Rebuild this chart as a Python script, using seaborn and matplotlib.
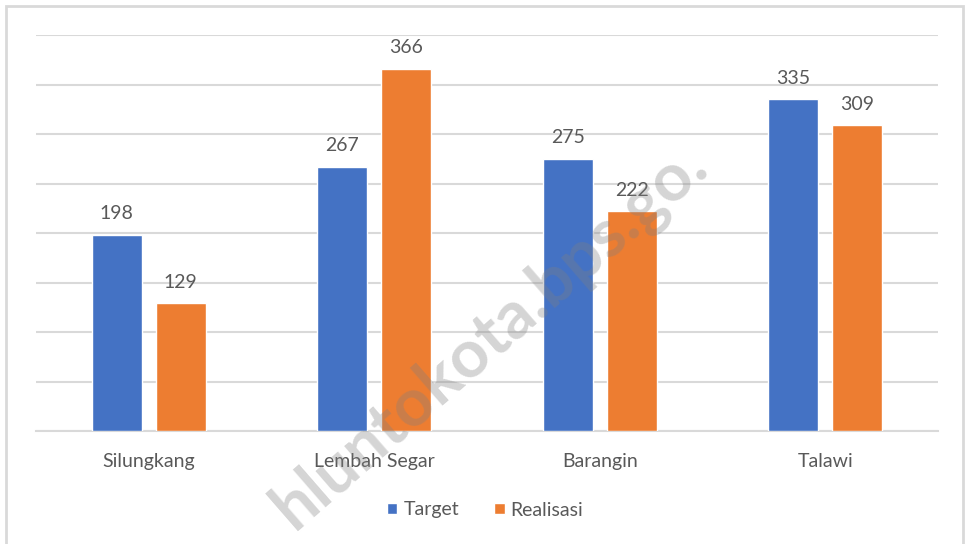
import matplotlib
matplotlib.use("Agg")
import matplotlib.pyplot as plt
import matplotlib.patches as patches
import pandas as pd
import seaborn as sns

# datos
kecamatan = ["Silungkang", "Lembah Segar", "Barangin", "Talawi"]
target = [198, 267, 275, 335]
realisasi = [129, 366, 222, 309]
seri = ["Target", "Realisasi"]
warna = ["#4472C4", "#ED7D31"]

df = pd.DataFrame({
    "kecamatan": kecamatan * 2,
    "nilai": target + realisasi,
    "seri": [seri[0]] * len(kecamatan) + [seri[1]] * len(kecamatan),
})

sns.set_style("white")
plt.rcParams["font.family"] = ["Lato", "DejaVu Sans"]
abu = "#595959"

fig = plt.figure(figsize=(9.7, 5.44), dpi=100)
ax = fig.add_axes([36 / 970, 1 - 431 / 544, 902 / 970, 396 / 544])

sns.barplot(data=df, x="kecamatan", y="nilai", hue="seri", palette=warna,
            width=0.568, gap=0.22, ax=ax, zorder=3, saturation=1)

for c in ax.containers:
    ax.bar_label(c, padding=9, fontsize=14, color=abu)

ax.set_ylim(0, 400)
ax.set_yticks(range(0, 401, 50))
ax.yaxis.grid(True, color="#D9D9D9", linewidth=1.5, zorder=0)
ax.set_yticklabels([])
ax.tick_params(axis="y", length=0)
ax.tick_params(axis="x", length=0, pad=16, labelsize=14, labelcolor=abu)
ax.set_xlabel("")
ax.set_ylabel("")
for s in ["top", "right", "left"]:
    ax.spines[s].set_visible(False)
ax.spines["bottom"].set_color("#D9D9D9")
ax.spines["bottom"].set_linewidth(1.5)

leg = ax.legend(loc="center", bbox_to_anchor=(0.5, (544 - 510) / 544),
                bbox_transform=fig.transFigure, ncol=2, frameon=False,
                fontsize=14, handlelength=0.55, handleheight=0.55,
                handletextpad=0.3, columnspacing=1.8)
for t in leg.get_texts():
    t.set_color(abu)

# borde exterior
fig.patches.append(patches.Rectangle((6 / 970, -0.02), 957 / 970, 1.02 - 6 / 544,
                                     transform=fig.transFigure, fill=False,
                                     edgecolor="#D9D9D9", linewidth=2))

# marca de agua
fig.text(490 / 970, 1 - 336 / 544, "hluntokota.bps.go.", fontsize=48,
         fontweight="bold", color="gray", alpha=0.33, rotation=41,
         ha="center", va="center", rotation_mode="anchor", zorder=10)

fig.savefig("out.png", dpi=100)
